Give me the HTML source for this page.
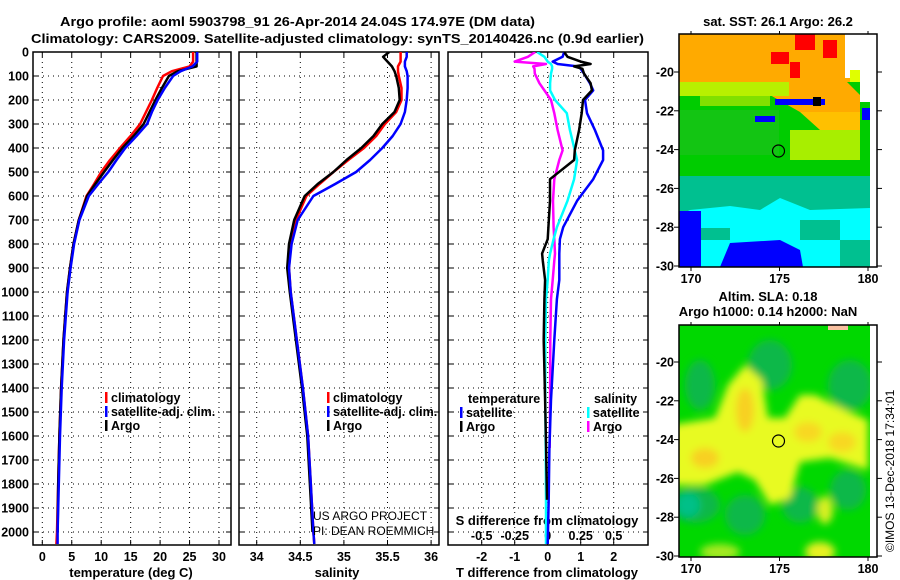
<!DOCTYPE html>
<html><head><meta charset="utf-8"><style>
html,body{margin:0;padding:0;background:#fff;}
svg{display:block;font-family:"Liberation Sans",sans-serif;}
.t{font-weight:bold;font-size:13px;fill:#000;}
.tk{font-weight:bold;font-size:12.5px;fill:#000;}
</style></head><body>
<svg id="fig" width="900" height="580" viewBox="0 0 900 580">
<defs>
<clipPath id="c1"><rect x="33" y="52" width="198" height="493"/></clipPath>
<clipPath id="c2"><rect x="239" y="52" width="200" height="493"/></clipPath>
<clipPath id="c3"><rect x="448" y="52" width="200" height="493"/></clipPath>
<clipPath id="cm2"><rect x="679" y="325" width="198" height="232"/></clipPath>
<filter id="bl" x="-30%" y="-30%" width="160%" height="160%"><feGaussianBlur stdDeviation="4"/></filter>
</defs>
<text class="t" x="60" y="26" textLength="475" lengthAdjust="spacingAndGlyphs">Argo profile: aoml 5903798_91 26-Apr-2014 24.04S 174.97E (DM data)</text>
<text class="t" x="31" y="43" textLength="613" lengthAdjust="spacingAndGlyphs">Climatology: CARS2009. Satellite-adjusted climatology: synTS_20140426.nc (0.9d earlier)</text>

<!-- top map -->
<g>
<text class="t" x="778" y="26" text-anchor="middle">sat. SST: 26.1 Argo: 26.2</text>
<rect x="679" y="34" width="198" height="233" fill="#00cc00"/>
<rect x="679" y="34" width="198" height="48" fill="#ffaa00"/>
<polygon points="760,80 845,80 860,95 860,112 800,112 770,95" fill="#ffaa00"/>
<polygon points="800,112 860,112 860,132 820,130" fill="#ffc000"/>
<rect x="679" y="82" width="110" height="14" fill="#b8f000"/>
<rect x="700" y="96" width="70" height="10" fill="#80e000"/>
<rect x="790" y="130" width="70" height="30" fill="#a8ee00"/>
<rect x="679" y="110" width="100" height="45" fill="#20c020" opacity="0.6"/>
<rect x="795" y="34" width="20" height="16" fill="#ff0000"/>
<rect x="823" y="40" width="14" height="18" fill="#ff0000"/>
<rect x="771" y="52" width="18" height="12" fill="#ff0000"/>
<rect x="790" y="62" width="10" height="16" fill="#ff0000"/>
<rect x="845" y="34" width="32" height="44" fill="#ffffff"/>
<rect x="860" y="78" width="17" height="24" fill="#ffffff"/>
<rect x="850" y="70" width="10" height="12" fill="#e0ff00"/>
<rect x="775" y="99" width="50" height="6" fill="#0000ff"/>
<rect x="813" y="97" width="8" height="9" fill="#000000"/>
<rect x="755" y="116" width="20" height="6" fill="#0000ff"/>
<rect x="862" y="108" width="8" height="12" fill="#0000ff"/>
<rect x="679" y="176" width="191" height="35" fill="#00c090"/>
<polygon points="690,210 730,206 760,210 780,198 810,210 870,208 870,267 679,267 679,215" fill="#00ffff"/>
<rect x="700" y="228" width="30" height="12" fill="#00c090"/>
<rect x="800" y="220" width="40" height="20" fill="#00c090"/>
<rect x="840" y="240" width="30" height="27" fill="#00c090"/>
<rect x="679" y="211" width="22" height="56" fill="#0000ff"/>
<polygon points="720,267 730,243 780,240 800,250 803,267" fill="#0000ff"/>
<rect x="870" y="34" width="7" height="233" fill="#ffffff"/>
<circle cx="778.5" cy="151" r="6" fill="none" stroke="#000" stroke-width="1.2"/>
<rect x="679" y="34" width="198" height="233" fill="none" stroke="#000" stroke-width="1.5"/>
</g>

<!-- bottom map -->
<g>
<text class="t" x="768" y="301" text-anchor="middle">Altim. SLA: 0.18</text>
<text class="t" x="768" y="316" text-anchor="middle">Argo h1000: 0.14 h2000: NaN</text>
<g clip-path="url(#cm2)">
<rect x="670" y="320" width="210" height="240" fill="#00d800"/>
<g filter="url(#bl)">
<ellipse cx="700" cy="385" rx="15" ry="25" fill="#10b848"/>
<ellipse cx="770" cy="365" rx="22" ry="25" fill="#10b848"/>
<ellipse cx="850" cy="385" rx="22" ry="25" fill="#10b848"/>
<ellipse cx="695" cy="505" rx="25" ry="18" fill="#10b848"/>
<ellipse cx="745" cy="515" rx="20" ry="20" fill="#10b848"/>
<ellipse cx="800" cy="505" rx="18" ry="18" fill="#10b848"/>
<ellipse cx="848" cy="490" rx="18" ry="20" fill="#10b848"/>
<ellipse cx="688" cy="505" rx="12" ry="12" fill="#00c088"/>
<polygon points="672,425 715,418 728,385 745,365 762,380 768,418 785,418 800,395 815,395 845,410 868,420 868,470 830,458 800,462 790,498 770,505 755,480 738,472 705,485 672,485" fill="#e8fa20"/>
<ellipse cx="745" cy="410" rx="9" ry="22" fill="#f8d020"/>
<ellipse cx="705" cy="458" rx="14" ry="10" fill="#f8d020"/>
<ellipse cx="808" cy="432" rx="14" ry="10" fill="#f8d820"/>
<ellipse cx="842" cy="442" rx="14" ry="10" fill="#f8d820"/>
<ellipse cx="825" cy="510" rx="8" ry="14" fill="#d8f020"/>
<ellipse cx="820" cy="552" rx="15" ry="10" fill="#e8f020"/>
<ellipse cx="720" cy="552" rx="20" ry="8" fill="#a8ea20"/>
</g>
<rect x="828" y="325" width="20" height="5" fill="#f8c0a0"/>
<rect x="870" y="325" width="7" height="232" fill="#ffffff"/>
</g>
<circle cx="778.5" cy="441" r="6" fill="none" stroke="#000" stroke-width="1.2"/>
<rect x="679" y="325" width="198" height="232" fill="none" stroke="#000" stroke-width="1.5"/>
</g>
<text x="0" y="0" transform="translate(894,552) rotate(-90)" style="font-size:12px">©IMOS 13-Dec-2018 17:34:01</text>

<g id="plots"></g>
</svg>
<script>
// ---- data ----
const depths = [0,20,40,60,80,100,150,200,250,300,350,400,450,500,550,600,700,800,900,1000,1200,1400,1600,1800,2000,2050];
const tempClim = [25.6,25.6,25.6,25,22,20.5,19.5,18.6,17.6,16.6,15,13.2,11.5,10,8.8,7.5,6.2,5.3,4.7,4.2,3.6,3.2,2.9,2.7,2.5,2.4];
const tempSat = [26.3,26.3,26.3,25.5,23.5,22.2,20.8,19.6,18.6,17.8,16,14.1,12.6,11.2,9.5,7.9,6.3,5.4,4.8,4.3,3.7,3.3,3.0,2.8,2.6,2.6];
const tempArgo = [26.2,26.2,26.2,26.2,23,21.5,20.3,19.2,18.2,17.2,15.5,13.6,12,10.5,9,7.6,6.2,5.3,4.7,4.2,3.6,3.2,2.9,2.7,2.6,null];
const salClim = [35.65,35.65,35.65,35.62,35.62,35.63,35.66,35.66,35.6,35.47,35.37,35.23,35.05,34.88,34.72,34.57,34.45,34.39,34.37,34.39,34.46,34.53,34.59,34.62,34.65,34.66];
const salSat = [35.72,35.72,35.7,35.7,35.72,35.73,35.73,35.72,35.7,35.65,35.56,35.44,35.3,35.14,34.9,34.65,34.47,34.4,34.37,34.39,34.46,34.53,34.59,34.62,34.65,34.66];
const salArgo = [35.52,35.45,35.5,35.55,35.58,35.6,35.63,35.64,35.58,35.44,35.34,35.2,35.03,34.88,34.7,34.55,34.43,34.37,34.35,34.38,34.45,34.52,34.58,34.61,34.64,null];
const diffDepths = [0,20,40,50,60,70,90,130,160,200,255,325,410,450,530,620,730,780,840,870,950,1030,1200,1450,1650,1866,2050];
const tDiffSat = [0.5,0.45,0.15,0.3,0.9,1.0,1.1,1.28,1.38,1.13,1.19,1.43,1.68,1.68,1.38,0.89,0.47,0.37,0.35,0.35,0.35,0.28,0.2,0.1,0.05,0.03,0.0];
const tDiffArgo = [0.5,0.6,1.0,1.3,0.8,1.05,1.1,1.3,1.34,1.07,1.03,0.95,0.82,0.8,0.07,0.07,0.02,0.0,-0.17,-0.15,-0.08,-0.1,-0.12,-0.08,-0.05,-0.02,null];
const sDiffSat = [-0.08,-0.025,0,0.025,0.033,0.033,0.025,0.018,0.018,0.055,0.145,0.168,0.205,0.223,0.2,0.15,0.07,0.045,0.018,0.008,0,-0.013,-0.018,-0.018,-0.015,-0.013,-0.013];
const sDiffArgo = [-0.095,-0.15,-0.25,-0.013,-0.11,-0.1,-0.098,-0.063,-0.025,0.025,0.05,0.075,0.113,0.088,0.05,0.04,0.045,0.05,0.055,0.05,0.038,0.025,0.02,0.018,0.015,null,null];
const depthTicks = [0,100,200,300,400,500,600,700,800,900,1000,1100,1200,1300,1400,1500,1600,1700,1800,1900,2000];
const tempTicks = [0,5,10,15,20,25,30];
const salTicks = [34,34.5,35,35.5,36];
const tDiffTicks = [-2,-1,0,1,2];
const sDiffTicks = [-0.5,-0.25,0,0.25,0.5];
const sDiffTickLabels = ['-0.5','-0.25','0','0.25','0.5'];
const latTicks = [-20,-22,-24,-26,-28,-30];
const lonTicks = [170,175,180];

// ---- scales ----
const yD = d => 52 + 0.24 * d;
const xT = t => 42.3 + 5.89 * t;
const xS = s => 256.7 + 87.2 * (s - 34);
const xTd = v => 547.7 + 33 * v;
const xSd = v => 547.7 + 132 * v;
const yLat1 = l => 72 + (-20 - l) * 19.4;
const yLat2 = l => 362 + (-20 - l) * 19.4;
const xLon = l => 691 + (l - 170) * 17.7;

const NS = 'http://www.w3.org/2000/svg';
const root = document.getElementById('plots');
function mk(tag, attrs, parent) {
  const e = document.createElementNS(NS, tag);
  for (const k in attrs) e.setAttribute(k, attrs[k]);
  (parent || root).appendChild(e);
  return e;
}
function txt(x, y, s, cls, anchor, parent) {
  const e = mk('text', {x: x, y: y, class: cls, 'text-anchor': anchor || 'middle'}, parent);
  e.textContent = s;
  return e;
}
function line(xs, ys, xf, color, clip, name) {
  let d = '', pen = false;
  for (let i = 0; i < xs.length; i++) {
    if (xs[i] === null || xs[i] === undefined) { pen = false; continue; }
    d += (pen ? 'L' : 'M') + xf(xs[i]).toFixed(1) + ',' + yD(ys[i]).toFixed(1);
    pen = true;
  }
  const p = mk('path', {d: d, fill: 'none', stroke: color, 'stroke-width': 2.5, 'stroke-linejoin': 'round', 'clip-path': clip});
  
  
}
function panel(x0, x1, ticks, xf, labels, name) {
  const g = mk('g', {});
  
  
  depthTicks.forEach(d => {
    if (d > 0) mk('line', {x1: x0, x2: x1, y1: yD(d), y2: yD(d), stroke: '#000', 'stroke-width': 1, 'stroke-dasharray': '1,4'}, g);
    mk('line', {x1: x0, x2: x0 + 5, y1: yD(d), y2: yD(d), stroke: '#000'}, g);
    mk('line', {x1: x1 - 5, x2: x1, y1: yD(d), y2: yD(d), stroke: '#000'}, g);
  });
  ticks.forEach((t, i) => {
    const x = xf(t);
    mk('line', {x1: x, x2: x, y1: 52, y2: 545, stroke: '#000', 'stroke-width': 1, 'stroke-dasharray': '1,4'}, g);
    mk('line', {x1: x, x2: x, y1: 545, y2: 540, stroke: '#000'}, g);
    mk('line', {x1: x, x2: x, y1: 52, y2: 57, stroke: '#000'}, g);
    const l = txt(x, 561, labels ? labels[i] : String(t), 'tk', 'middle', g);
    
    
  });
  mk('rect', {x: x0, y: 52, width: x1 - x0, height: 493, fill: 'none', stroke: '#000', 'stroke-width': 1.5}, g);
  return g;
}

// depth axis labels
depthTicks.forEach(d => {
  const l = txt(29, yD(d) + 4.5, String(d), 'tk', 'end');
  
  
});

panel(33, 231, tempTicks, xT, null, 'temperature-panel');
panel(239, 439, salTicks, xS, null, 'salinity-panel');
panel(448, 648, tDiffTicks, xTd, null, 'difference-panel');

let lab = txt(131, 577, 'temperature (deg C)', 't');


lab = txt(337, 577, 'salinity', 't');


lab = txt(547, 577, 'T difference from climatology', 't');


lab = txt(547, 525, 'S difference from climatology', 't');


sDiffTicks.forEach((s, i) => {
  const l = txt(xSd(s), 540, sDiffTickLabels[i], 'tk');
  
  
});

// series
line(tempClim, depths, xT, '#ff0000', 'url(#c1)', 'temp-climatology-line');
line(tempArgo, depths, xT, '#000000', 'url(#c1)', 'temp-argo-line');
line(tempSat, depths, xT, '#0000ff', 'url(#c1)', 'temp-satellite-line');
line(salClim, depths, xS, '#ff0000', 'url(#c2)', 'sal-climatology-line');
line(salArgo, depths, xS, '#000000', 'url(#c2)', 'sal-argo-line');
line(salSat, depths, xS, '#0000ff', 'url(#c2)', 'sal-satellite-line');
line(sDiffArgo, diffDepths, xSd, '#ff00ff', 'url(#c3)', 's-diff-argo-line');
line(sDiffSat, diffDepths, xSd, '#00ffff', 'url(#c3)', 's-diff-satellite-line');
line(tDiffSat, diffDepths, xTd, '#0000ff', 'url(#c3)', 't-diff-satellite-line');
line(tDiffArgo, diffDepths, xTd, '#000000', 'url(#c3)', 't-diff-argo-line');

// legends
function legend(x, y, color, label, name) {
  const g = mk('g', {});
  
  
  if (color) mk('rect', {x: x, y: y - 10, width: 2.5, height: 11, fill: color}, g);
  txt(x + 6, y, label, 'tk', 'start', g);
}
legend(105, 402, '#ff0000', 'climatology', 'legend-climatology');
legend(105, 416, '#0000ff', 'satellite-adj. clim.', 'legend-satellite-adj');
legend(105, 430, '#000000', 'Argo', 'legend-argo');
legend(327, 402, '#ff0000', 'climatology', 'legend-sal-climatology');
legend(327, 416, '#0000ff', 'satellite-adj. clim.', 'legend-sal-satellite-adj');
legend(327, 430, '#000000', 'Argo', 'legend-sal-argo');
legend(462, 403, null, 'temperature', 'legend-temperature-heading');
legend(460, 417, '#0000ff', 'satellite', 'legend-t-satellite');
legend(460, 431, '#000000', 'Argo', 'legend-t-argo');
legend(588, 403, null, 'salinity', 'legend-salinity-heading');
legend(587, 417, '#00ffff', 'satellite', 'legend-s-satellite');
legend(587, 431, '#ff00ff', 'Argo', 'legend-s-argo');

let pj = txt(313, 520, 'US ARGO PROJECT', '', 'start');
pj.setAttribute('style', 'font-size:12px');


pj = txt(313, 535, 'PI: DEAN ROEMMICH', '', 'start');
pj.setAttribute('style', 'font-size:12px');



// map ticks (labels on the left side of the maps, tick marks on the right)
[[yLat1, 267, 34], [yLat2, 557, 325]].forEach(([yf, yb, yt]) => {
  latTicks.forEach(l => {
    const y = yf(l);
    mk('line', {x1: 877, x2: 882, y1: y, y2: y, stroke: '#000'});
    mk('line', {x1: 674, x2: 679, y1: y, y2: y, stroke: '#000'});
    const t = txt(674, y + 4.5, String(l), 'tk', 'end');
    
    
  });
  lonTicks.forEach(l => {
    const x = xLon(l);
    mk('line', {x1: x, x2: x, y1: yb, y2: yb + 4, stroke: '#000'});
    mk('line', {x1: x, x2: x, y1: yt, y2: yt - 3, stroke: '#000'});
    const t = txt(x, yb + 16, String(l), 'tk');
    
    
  });
});
</script>
</body></html>
